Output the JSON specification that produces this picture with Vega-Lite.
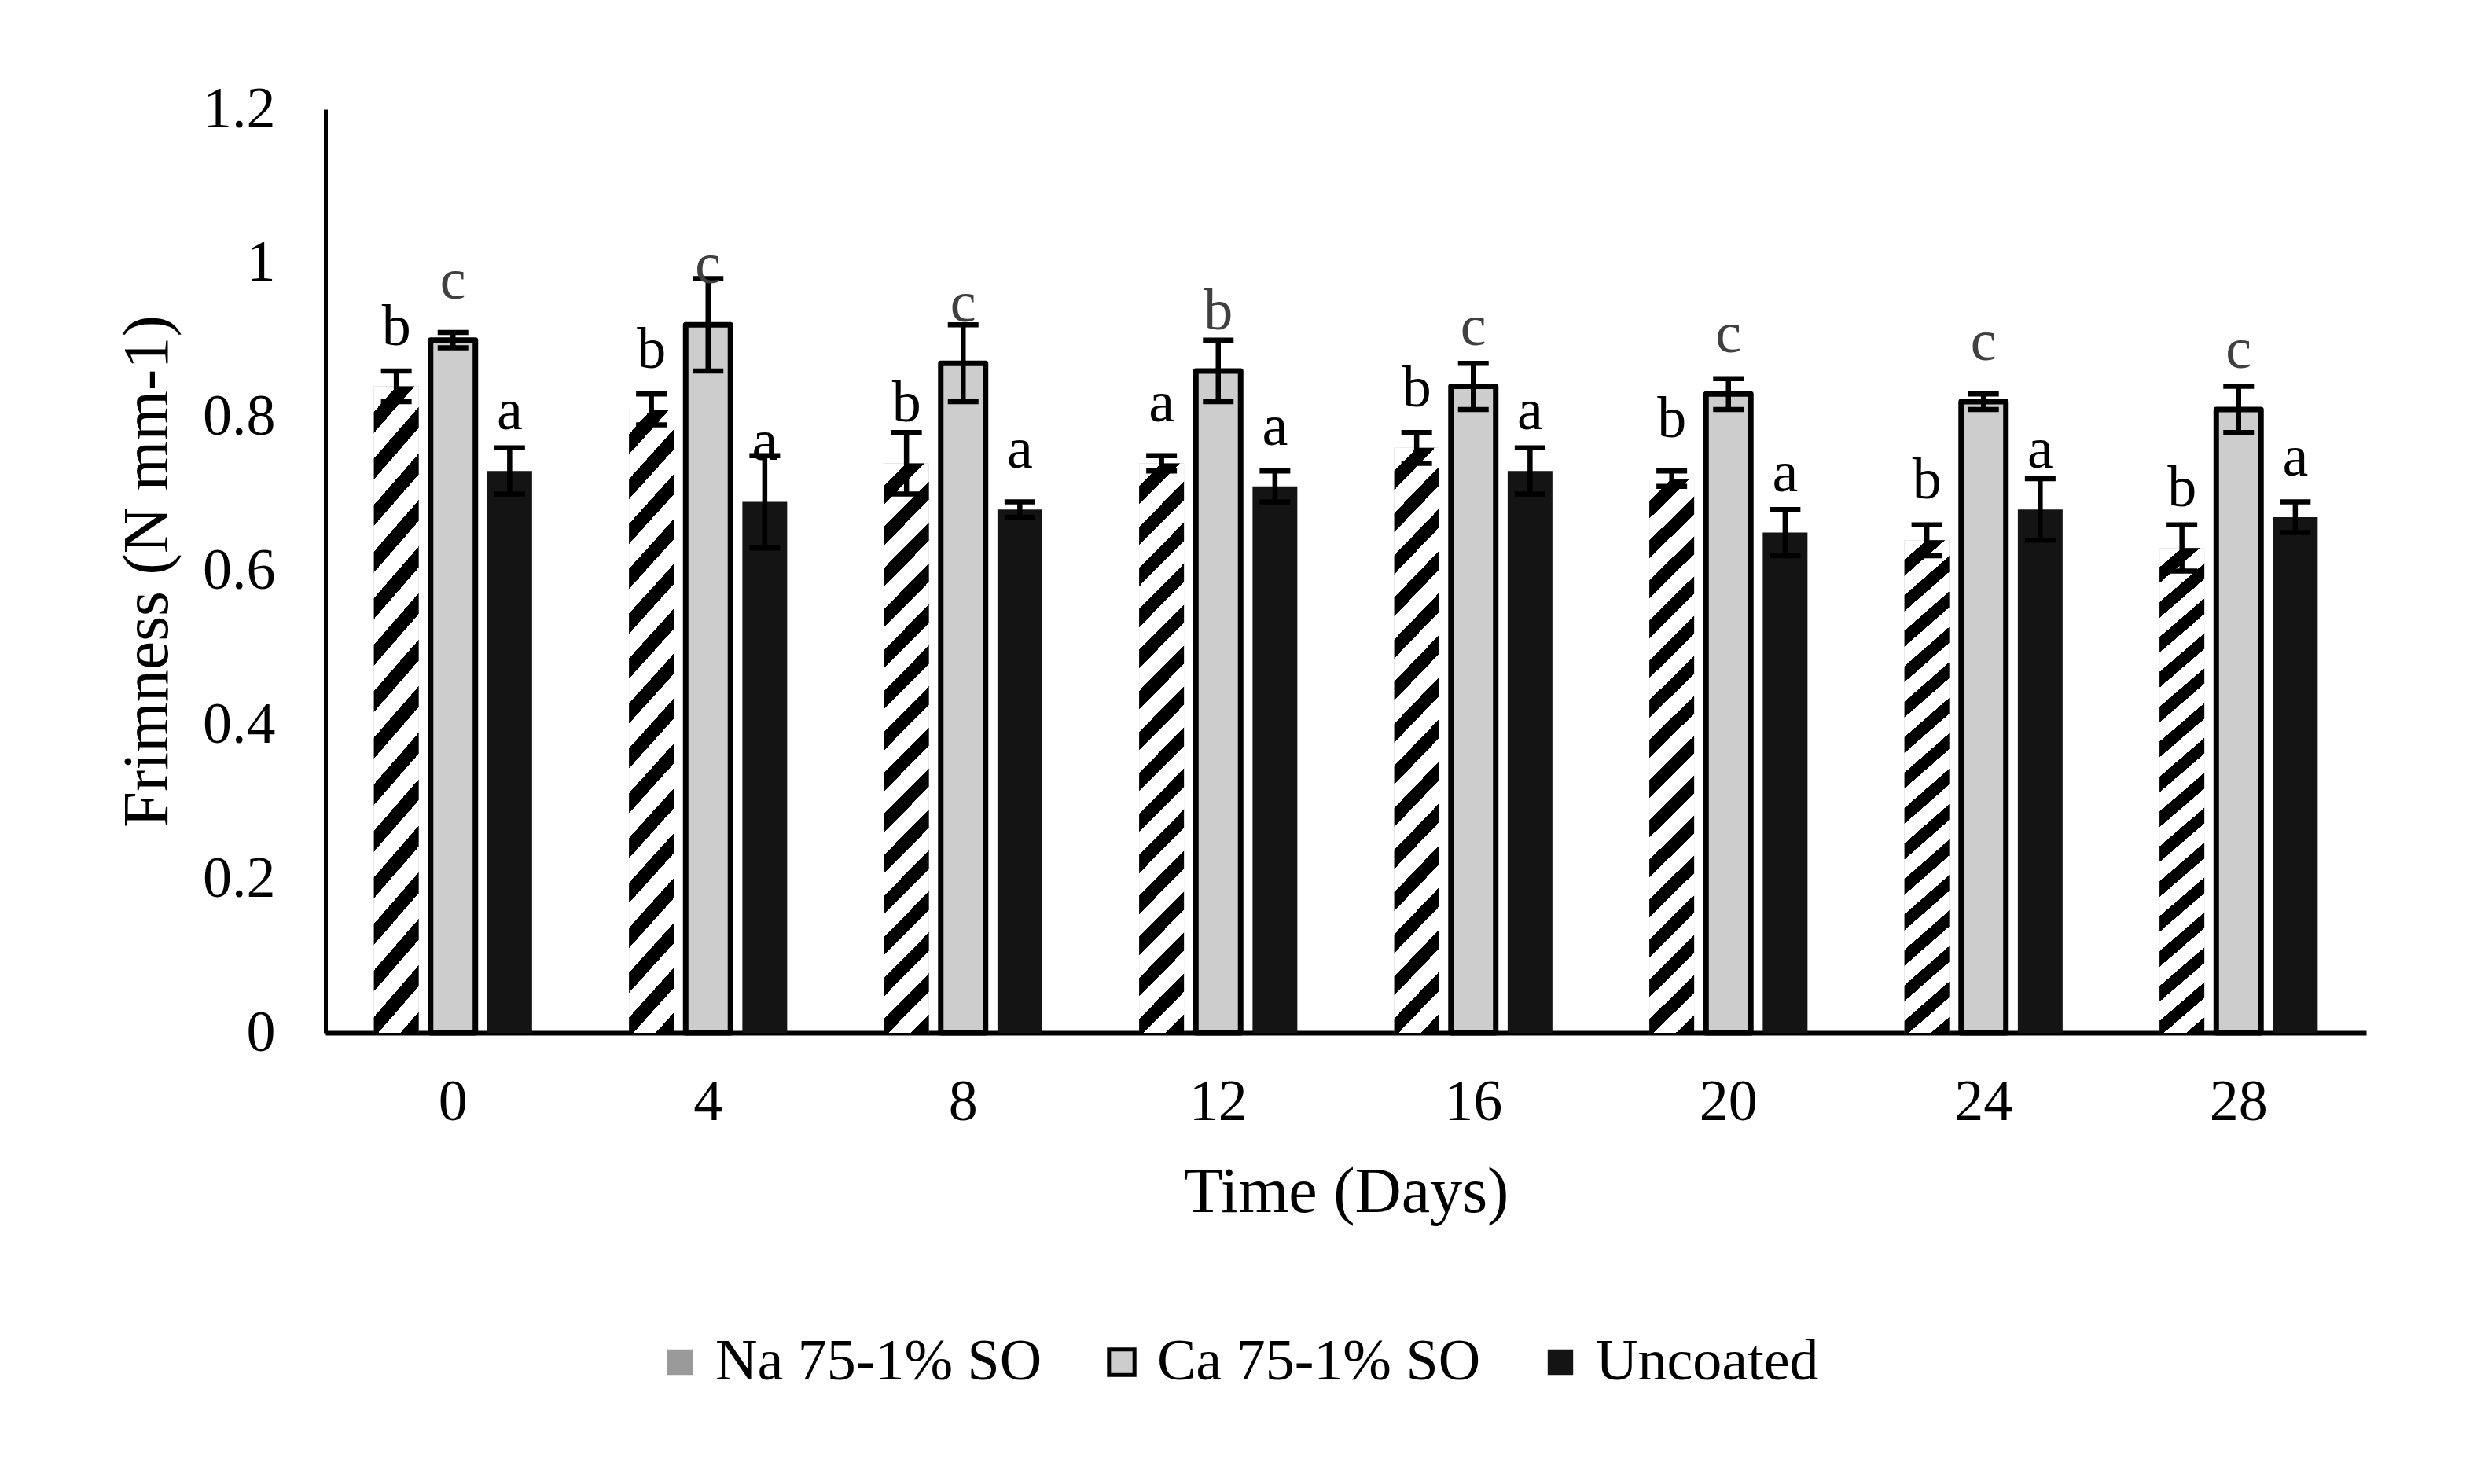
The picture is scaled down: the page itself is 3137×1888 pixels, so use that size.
{
  "$schema": "https://vega.github.io/schema/vega-lite/v6.json",
  "width": 2596,
  "height": 1175,
  "autosize": {"type": "none"},
  "padding": {"left": 414, "top": 139, "right": 127, "bottom": 574},
  "background": "white",
  "config": {
    "view": {"stroke": null},
    "font": "Liberation Serif",
    "axis": {
      "labelFont": "Liberation Serif",
      "labelFontSize": 74,
      "labelColor": "black",
      "titleFont": "Liberation Serif",
      "titleFontSize": 82,
      "titleFontWeight": "normal",
      "titleColor": "black",
      "ticks": false,
      "tickSize": 0,
      "grid": false,
      "domainColor": "black",
      "zindex": 1
    },
    "legend": {
      "orient": "none",
      "legendX": 414,
      "legendY": 1557,
      "direction": "horizontal",
      "padding": 0,
      "symbolType": "square",
      "symbolSize": 1050,
      "symbolStrokeWidth": 5,
      "labelFont": "Liberation Serif",
      "labelFontSize": 74,
      "labelColor": "black",
      "labelOffset": 8,
      "labelLimit": 0,
      "columnPadding": 64
    }
  },
  "data": {
    "values": [
      {"day": 0, "series": "Na 75-1% SO", "value": 0.84, "lo": 0.82, "hi": 0.86, "letter": "b"},
      {"day": 0, "series": "Ca 75-1% SO", "value": 0.90, "lo": 0.89, "hi": 0.91, "letter": "c"},
      {"day": 0, "series": "Uncoated", "value": 0.73, "lo": 0.70, "hi": 0.76, "letter": "a"},
      {"day": 4, "series": "Na 75-1% SO", "value": 0.81, "lo": 0.79, "hi": 0.83, "letter": "b"},
      {"day": 4, "series": "Ca 75-1% SO", "value": 0.92, "lo": 0.86, "hi": 0.98, "letter": "c"},
      {"day": 4, "series": "Uncoated", "value": 0.69, "lo": 0.63, "hi": 0.75, "letter": "a"},
      {"day": 8, "series": "Na 75-1% SO", "value": 0.74, "lo": 0.70, "hi": 0.78, "letter": "b"},
      {"day": 8, "series": "Ca 75-1% SO", "value": 0.87, "lo": 0.82, "hi": 0.92, "letter": "c"},
      {"day": 8, "series": "Uncoated", "value": 0.68, "lo": 0.67, "hi": 0.69, "letter": "a"},
      {"day": 12, "series": "Na 75-1% SO", "value": 0.74, "lo": 0.73, "hi": 0.75, "letter": "a"},
      {"day": 12, "series": "Ca 75-1% SO", "value": 0.86, "lo": 0.82, "hi": 0.90, "letter": "b"},
      {"day": 12, "series": "Uncoated", "value": 0.71, "lo": 0.69, "hi": 0.73, "letter": "a"},
      {"day": 16, "series": "Na 75-1% SO", "value": 0.76, "lo": 0.74, "hi": 0.78, "letter": "b"},
      {"day": 16, "series": "Ca 75-1% SO", "value": 0.84, "lo": 0.81, "hi": 0.87, "letter": "c"},
      {"day": 16, "series": "Uncoated", "value": 0.73, "lo": 0.70, "hi": 0.76, "letter": "a"},
      {"day": 20, "series": "Na 75-1% SO", "value": 0.72, "lo": 0.71, "hi": 0.73, "letter": "b"},
      {"day": 20, "series": "Ca 75-1% SO", "value": 0.83, "lo": 0.81, "hi": 0.85, "letter": "c"},
      {"day": 20, "series": "Uncoated", "value": 0.65, "lo": 0.62, "hi": 0.68, "letter": "a"},
      {"day": 24, "series": "Na 75-1% SO", "value": 0.64, "lo": 0.62, "hi": 0.66, "letter": "b"},
      {"day": 24, "series": "Ca 75-1% SO", "value": 0.82, "lo": 0.81, "hi": 0.83, "letter": "c"},
      {"day": 24, "series": "Uncoated", "value": 0.68, "lo": 0.64, "hi": 0.72, "letter": "a"},
      {"day": 28, "series": "Na 75-1% SO", "value": 0.63, "lo": 0.60, "hi": 0.66, "letter": "b"},
      {"day": 28, "series": "Ca 75-1% SO", "value": 0.81, "lo": 0.78, "hi": 0.84, "letter": "c"},
      {"day": 28, "series": "Uncoated", "value": 0.67, "lo": 0.65, "hi": 0.69, "letter": "a"}
    ]
  },
  "encoding": {
    "x": {
      "field": "day",
      "type": "ordinal",
      "title": "Time (Days)",
      "scale": {"paddingInner": 0.38, "paddingOuter": 0.19},
      "axis": {"labelAngle": 0, "labelPadding": 52, "titlePadding": 37, "domainWidth": 6}
    },
    "xOffset": {
      "field": "series",
      "type": "nominal",
      "sort": ["Na 75-1% SO", "Ca 75-1% SO", "Uncoated"],
      "scale": {"domain": ["Na 75-1% SO", "Ca 75-1% SO", "Uncoated"], "paddingInner": 0.21, "paddingOuter": 0}
    }
  },
  "layer": [
    {
      "mark": {"type": "bar", "strokeWidth": 7, "strokeJoin": "round"},
      "encoding": {
        "y": {
          "field": "value",
          "type": "quantitative",
          "title": "Frimness (N mm-1)",
          "scale": {"domain": [0, 1.2], "nice": false},
          "axis": {"values": [0, 0.2, 0.4, 0.6, 0.8, 1, 1.2], "format": "~g", "labelPadding": 64, "titlePadding": 28, "domainWidth": 5}
        },
        "fill": {
          "field": "series",
          "type": "nominal",
          "title": null,
          "scale": {"domain": ["Na 75-1% SO", "Ca 75-1% SO", "Uncoated"], "range": ["#9a9a9a", "#cdcdcd", "#141414"]}
        },
        "stroke": {
          "field": "series",
          "type": "nominal",
          "title": null,
          "scale": {"domain": ["Na 75-1% SO", "Ca 75-1% SO", "Uncoated"], "range": ["rgba(0,0,0,0)", "#000000", "rgba(0,0,0,0)"]}
        }
      }
    },
    {
      "transform": [{"filter": "datum.series === 'Na 75-1% SO'"}],
      "mark": {
        "type": "bar",
        "fill": {
          "gradient": "linear",
          "x1": 0, "y1": 0, "x2": 0.0855, "y2": 1.0729,
          "stops": [
            {"offset": 0, "color": "#ffffff"}, {"offset": 0.0367, "color": "#ffffff"}, {"offset": 0.0367, "color": "#000000"}, {"offset": 0.0667, "color": "#000000"},
            {"offset": 0.0667, "color": "#ffffff"}, {"offset": 0.1033, "color": "#ffffff"}, {"offset": 0.1033, "color": "#000000"}, {"offset": 0.1333, "color": "#000000"},
            {"offset": 0.1333, "color": "#ffffff"}, {"offset": 0.17, "color": "#ffffff"}, {"offset": 0.17, "color": "#000000"}, {"offset": 0.2, "color": "#000000"},
            {"offset": 0.2, "color": "#ffffff"}, {"offset": 0.2367, "color": "#ffffff"}, {"offset": 0.2367, "color": "#000000"}, {"offset": 0.2667, "color": "#000000"},
            {"offset": 0.2667, "color": "#ffffff"}, {"offset": 0.3033, "color": "#ffffff"}, {"offset": 0.3033, "color": "#000000"}, {"offset": 0.3333, "color": "#000000"},
            {"offset": 0.3333, "color": "#ffffff"}, {"offset": 0.37, "color": "#ffffff"}, {"offset": 0.37, "color": "#000000"}, {"offset": 0.4, "color": "#000000"},
            {"offset": 0.4, "color": "#ffffff"}, {"offset": 0.4367, "color": "#ffffff"}, {"offset": 0.4367, "color": "#000000"}, {"offset": 0.4667, "color": "#000000"},
            {"offset": 0.4667, "color": "#ffffff"}, {"offset": 0.5033, "color": "#ffffff"}, {"offset": 0.5033, "color": "#000000"}, {"offset": 0.5333, "color": "#000000"},
            {"offset": 0.5333, "color": "#ffffff"}, {"offset": 0.57, "color": "#ffffff"}, {"offset": 0.57, "color": "#000000"}, {"offset": 0.6, "color": "#000000"},
            {"offset": 0.6, "color": "#ffffff"}, {"offset": 0.6367, "color": "#ffffff"}, {"offset": 0.6367, "color": "#000000"}, {"offset": 0.6667, "color": "#000000"},
            {"offset": 0.6667, "color": "#ffffff"}, {"offset": 0.7033, "color": "#ffffff"}, {"offset": 0.7033, "color": "#000000"}, {"offset": 0.7333, "color": "#000000"},
            {"offset": 0.7333, "color": "#ffffff"}, {"offset": 0.77, "color": "#ffffff"}, {"offset": 0.77, "color": "#000000"}, {"offset": 0.8, "color": "#000000"},
            {"offset": 0.8, "color": "#ffffff"}, {"offset": 0.8367, "color": "#ffffff"}, {"offset": 0.8367, "color": "#000000"}, {"offset": 0.8667, "color": "#000000"},
            {"offset": 0.8667, "color": "#ffffff"}, {"offset": 0.9033, "color": "#ffffff"}, {"offset": 0.9033, "color": "#000000"}, {"offset": 0.9333, "color": "#000000"},
            {"offset": 0.9333, "color": "#ffffff"}, {"offset": 0.97, "color": "#ffffff"}, {"offset": 0.97, "color": "#000000"}, {"offset": 1, "color": "#000000"}
          ]
        }
      },
      "encoding": {
        "y": {"field": "value", "type": "quantitative", "title": "Frimness (N mm-1)"}
      }
    },
    {
      "mark": {"type": "rule", "color": "black", "strokeWidth": 6.5},
      "encoding": {
        "y": {"field": "lo", "type": "quantitative", "title": "Frimness (N mm-1)"},
        "y2": {"field": "hi"}
      }
    },
    {
      "mark": {"type": "tick", "color": "black", "size": 39, "thickness": 6.5, "opacity": 1},
      "encoding": {
        "y": {"field": "hi", "type": "quantitative", "title": "Frimness (N mm-1)"}
      }
    },
    {
      "mark": {"type": "tick", "color": "black", "size": 39, "thickness": 6.5, "opacity": 1},
      "encoding": {
        "y": {"field": "lo", "type": "quantitative", "title": "Frimness (N mm-1)"}
      }
    },
    {
      "mark": {"type": "text", "font": "Liberation Serif", "fontSize": 74, "baseline": "alphabetic", "align": "center", "dy": -53},
      "encoding": {
        "y": {"field": "value", "type": "quantitative", "title": "Frimness (N mm-1)"},
        "text": {"field": "letter"},
        "fill": {
          "condition": {"test": "datum.series === 'Ca 75-1% SO'", "value": "#404040"},
          "value": "#000000"
        }
      }
    }
  ]
}
